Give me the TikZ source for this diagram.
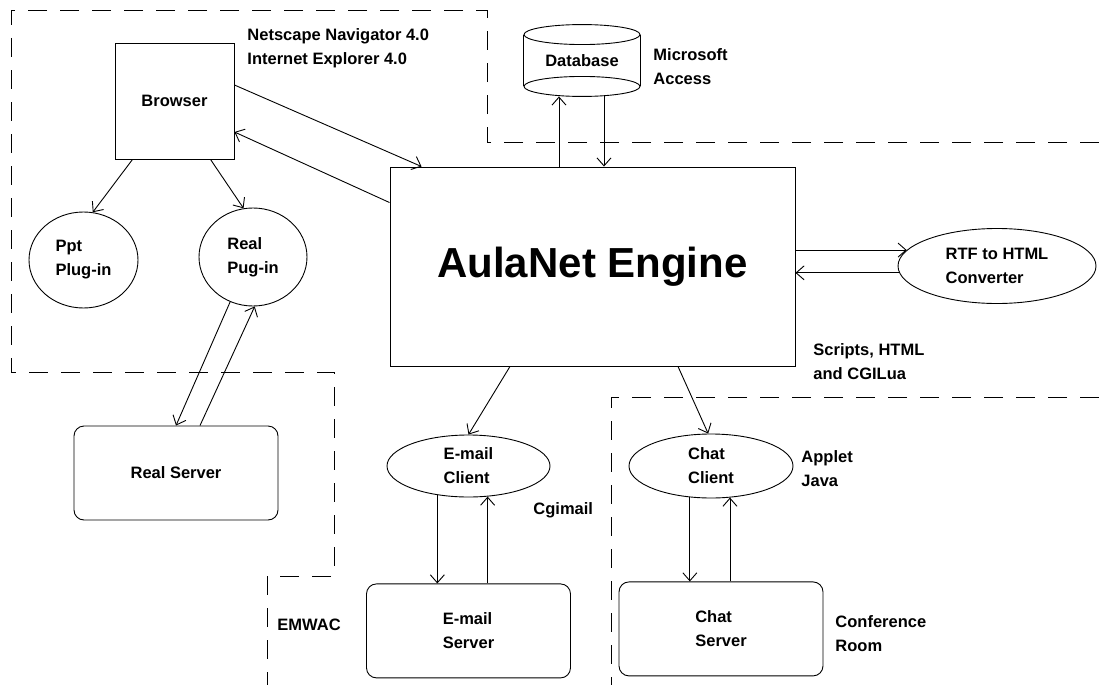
\documentclass[tikz,border=0pt]{standalone}
\usepackage{fontspec}
\setmainfont{Liberation Sans}
\usetikzlibrary{arrows.meta,shapes.geometric,positioning}

\tikzset{
  box/.style={draw, inner sep=0pt, align=left},
  oval/.style={ellipse, draw, inner sep=0pt, align=left},
  server/.style={draw, rounded corners=10pt, inner sep=0pt, align=left,
                 minimum width=204pt, minimum height=94pt},
  note/.style={anchor=west, inner sep=0pt, align=left},
  region/.style={dash pattern=on 19pt off 13pt}
}

\begin{document}
\begin{tikzpicture}[x=1pt,y=-1pt,>={Straight Barb[length=8pt,width=14pt]},line width=0.9pt,
                    font=\bfseries\fontsize{16.5}{24}\selectfont]
   \useasboundingbox (0,0) rectangle (1099,685);

   % dashed regions
   \draw[region] (1099,142) -- (487,142) -- (487,10) -- (11,10) -- (11,372)
                 -- (334,372) -- (334,576) -- (267,576) -- (267,685);
   \draw[region] (1099,397) -- (611,397) -- (611,685);

   \node[box, minimum width=119pt, minimum height=116pt] (browser) at (174.5,101) {Browser};
   \node[box, minimum width=405pt, minimum height=199pt,
         font=\bfseries\fontsize{42}{48}\selectfont] (engine) at (592.5,266.5) {AulaNet Engine};
   \node[inner sep=0pt, minimum width=116pt, minimum height=71pt] (db) at (582,60.5) {Database};
   \node[oval, minimum width=109pt, minimum height=96pt] (ppt)      at (83.5,260) {Ppt\\Plug-in};
   \node[oval, minimum width=108pt, minimum height=98pt] (realplug) at (253,257)  {Real\\Pug-in};
   \node[oval, minimum width=198pt, minimum height=75pt] (rtf)      at (997,266)  {RTF to HTML\\Converter};
   \node[oval, minimum width=163pt, minimum height=62pt] (emailcl)  at (468.5,466) {E-mail\\Client};
   \node[oval, minimum width=164pt, minimum height=64pt] (chatcl)   at (711,466)  {Chat\\Client};
   \node[server] (realsrv) at (176,473) {Real Server};
   \node[server] (emailsrv) [below=86pt of emailcl] {E-mail\\Server};
   \node[server] (chatsrv)  [below=83pt of chatcl, xshift=10pt] {Chat\\Server};

   % database drum
   \draw ([yshift=-10pt]db.north) ellipse [x radius=58pt, y radius=10pt];
   \draw ([yshift=10pt]db.south) ellipse [x radius=58pt, y radius=10pt];
   \draw ([yshift=-10pt]db.north west) -- ([yshift=10pt]db.south west)
         ([yshift=-10pt]db.north east) -- ([yshift=10pt]db.south east);

   \node[note] (browsers) at (247,48)  {Netscape Navigator 4.0\\Internet Explorer 4.0};
   \node[note] (access)   at (653,67)  {Microsoft\\Access};
   \node[note] (scripts)  at (813,362) {Scripts, HTML\\and CGILua};
   \node[note] (cgimail)  at (533,510) {Cgimail};
   \node[note] (applet)   at (801,469) {Applet\\Java};
   \node[note] (confroom) at (835,634) {Conference\\Room};
   \node[note] (emwac)    at (277,625) {EMWAC};

   \coordinate (dbup)   at ([xshift=-23pt]db.south);
   \coordinate (dbdown) at ([xshift=22pt]db.south);

   \path[->] ([yshift=16pt]browser.east) edge ([xshift=32pt]engine.north west)
             ([yshift=-36pt]engine.north west) edge ([yshift=-31pt]browser.east)
             ([xshift=-42pt]browser.south) edge (ppt.79)
             ([xshift=36pt]browser.south) edge (realplug.101)
             (realplug.243) edge (realsrv.north)
             ([xshift=24pt]realsrv.north) edge (realplug.272)
             (dbup |- engine.north) edge (dbup)
             (dbdown) edge (dbdown |- engine.north)
             (engine.east |- rtf.170) edge (rtf.170)
             (rtf.184) edge (engine.east |- rtf.184)
             ([xshift=-82.5pt]engine.south) edge (emailcl.north)
             ([xshift=85.5pt]engine.south) edge (chatcl.95)
             (emailcl.223) edge (emailcl.223 |- emailsrv.north)
             (emailcl.302 |- emailsrv.north) edge (emailcl.302)
             (chatcl.236) edge (chatcl.236 |- chatsrv.north)
             (chatcl.301 |- chatsrv.north) edge (chatcl.301);

\end{tikzpicture}
\end{document}
